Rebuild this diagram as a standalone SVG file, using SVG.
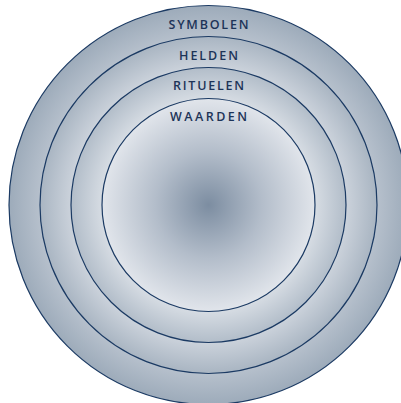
<svg xmlns="http://www.w3.org/2000/svg" width="401" height="403" viewBox="0 0 401 403">
<defs>
<radialGradient id="g1" gradientUnits="userSpaceOnUse" cx="208.5" cy="205" r="199.5">
<stop offset="0.845" stop-color="#b6c0cc"/><stop offset="1" stop-color="#9dabba"/>
</radialGradient>
<radialGradient id="g2" gradientUnits="userSpaceOnUse" cx="208.5" cy="205" r="168.5">
<stop offset="0.816" stop-color="#cbd2db"/><stop offset="1" stop-color="#a9b5c2"/>
</radialGradient>
<radialGradient id="g3" gradientUnits="userSpaceOnUse" cx="208.5" cy="205" r="137.5">
<stop offset="0.775" stop-color="#d6dce3"/><stop offset="1" stop-color="#b2bdc9"/>
</radialGradient>
<radialGradient id="g4" gradientUnits="userSpaceOnUse" cx="208.5" cy="205" r="106.5">
<stop offset="0" stop-color="#7c8da1"/><stop offset="0.5" stop-color="#b3bdca"/><stop offset="1" stop-color="#e1e5eb"/>
</radialGradient>
</defs>
<style>
.ring{stroke:#1b3a63;stroke-width:1.2}
.lbl{font-family:"Open Sans","Noto Sans",sans-serif;font-size:12.5px;font-weight:600;fill:#1d3458;text-anchor:middle}
</style>
<g id="symbolen">
<circle class="ring" cx="208.5" cy="205" r="199.5" fill="url(#g1)"/>
<text class="lbl" x="208.5" y="29" textLength="80" lengthAdjust="spacing">SYMBOLEN</text>
</g>
<g id="helden">
<circle class="ring" cx="208.5" cy="205" r="168.5" fill="url(#g2)"/>
<text class="lbl" x="208.5" y="60" textLength="59" lengthAdjust="spacing">HELDEN</text>
</g>
<g id="rituelen">
<circle class="ring" cx="208.5" cy="205" r="137.5" fill="url(#g3)"/>
<text class="lbl" x="208.5" y="90" textLength="71" lengthAdjust="spacing">RITUELEN</text>
</g>
<g id="waarden">
<circle class="ring" cx="208.5" cy="205" r="106.5" fill="url(#g4)"/>
<text class="lbl" x="208.5" y="121" textLength="77" lengthAdjust="spacing">WAARDEN</text>
</g>
<g id="connectors"/>
</svg>
